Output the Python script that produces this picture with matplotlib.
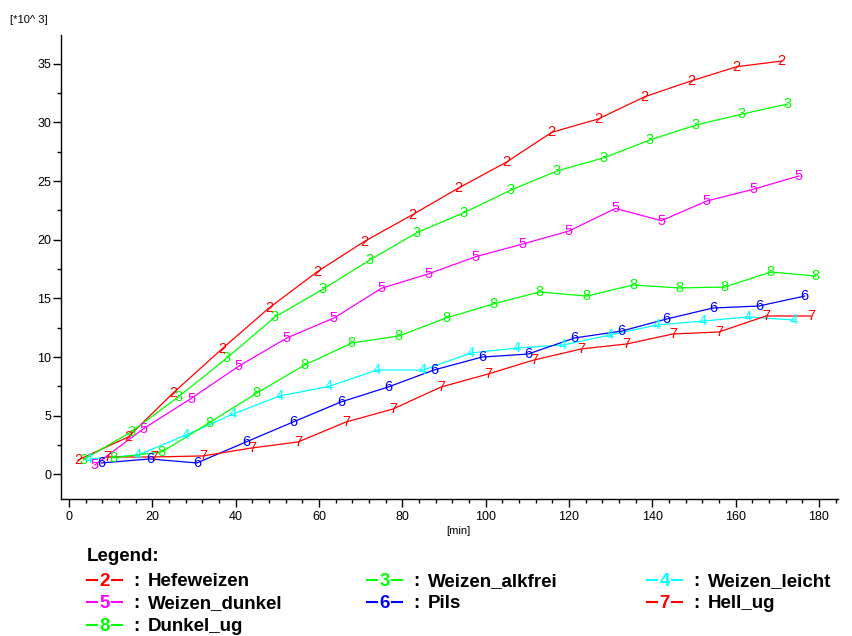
import matplotlib
matplotlib.use("Agg")
import matplotlib.pyplot as plt
from matplotlib.lines import Line2D
from matplotlib.ticker import MultipleLocator

plt.rcParams['font.family'] = ['Liberation Sans', 'DejaVu Sans']

# measured series: time [min] and value [*10^3]
t_hefe = [2.2, 14.2, 25.0, 36.7, 48.0, 59.5, 70.8, 82.3, 93.4, 104.9, 115.9, 127.0, 138.2, 149.3, 160.3, 171.1]
hefe = [1.24, 3.19, 6.94, 10.69, 14.18, 17.25, 19.83, 22.10, 24.38, 26.59, 29.15, 30.28, 32.18, 33.52, 34.74, 35.22]

t_alkfrei = [3.4, 14.9, 26.2, 37.9, 49.4, 60.9, 72.2, 83.5, 94.8, 106.1, 117.1, 128.4, 139.4, 150.5, 161.5, 172.5]
alkfrei = [1.24, 3.62, 6.60, 9.92, 13.41, 15.77, 18.27, 20.60, 22.30, 24.23, 25.85, 26.98, 28.49, 29.77, 30.70, 31.56]

t_leicht = [4.8, 16.6, 28.1, 39.4, 50.6, 62.4, 73.9, 85.0, 96.5, 107.5, 118.6, 129.8, 141.1, 152.2, 163.0, 174.0]
leicht = [1.32, 1.66, 3.36, 5.15, 6.69, 7.50, 8.90, 8.90, 10.35, 10.77, 11.03, 11.88, 12.73, 13.07, 13.42, 13.16]

t_dunkel = [6.2, 17.8, 29.3, 40.8, 52.3, 63.6, 75.0, 86.2, 97.6, 108.9, 120.0, 131.2, 142.2, 153.1, 164.2, 175.2]
dunkel = [0.81, 3.88, 6.47, 9.24, 11.63, 13.33, 15.86, 17.08, 18.55, 19.63, 20.74, 22.67, 21.62, 23.30, 24.29, 25.43]

t_pils = [7.7, 19.4, 30.7, 42.5, 53.8, 65.3, 76.6, 87.6, 99.1, 110.2, 121.4, 132.7, 143.5, 154.6, 165.6, 176.6]
pils = [0.98, 1.32, 0.98, 2.77, 4.47, 6.18, 7.45, 8.90, 10.00, 10.26, 11.63, 12.22, 13.25, 14.18, 14.35, 15.20]

t_hell = [9.1, 20.4, 32.2, 43.9, 55.0, 66.5, 77.8, 89.3, 100.6, 111.6, 122.9, 133.9, 145.0, 156.0, 167.3, 178.1]
hell = [1.49, 1.49, 1.58, 2.26, 2.77, 4.47, 5.58, 7.45, 8.56, 9.75, 10.69, 11.12, 11.97, 12.14, 13.50, 13.50]

t_dunkel_ug = [10.6, 22.3, 33.6, 45.1, 56.6, 67.9, 79.2, 90.5, 101.8, 113.0, 124.3, 135.4, 146.6, 157.4, 168.5, 179.3]
dunkel_ug = [1.41, 1.92, 4.39, 6.94, 9.33, 11.20, 11.80, 13.33, 14.52, 15.55, 15.20, 16.14, 15.89, 15.97, 17.25, 16.90]

series = [
    ("2", "Hefeweizen", "#ff0000", t_hefe, hefe),
    ("3", "Weizen_alkfrei", "#00ff00", t_alkfrei, alkfrei),
    ("4", "Weizen_leicht", "#00ffff", t_leicht, leicht),
    ("5", "Weizen_dunkel", "#ff00ff", t_dunkel, dunkel),
    ("6", "Pils", "#0000ff", t_pils, pils),
    ("7", "Hell_ug", "#ff0000", t_hell, hell),
    ("8", "Dunkel_ug", "#00ff00", t_dunkel_ug, dunkel_ug),
]

W, H = 852, 636
fig = plt.figure(figsize=(W / 100, H / 100), dpi=100)


def fx(px):
    return px / W


def fy(py):
    return 1 - py / H


ax = fig.add_axes([fx(61), fy(499), fx(838) - fx(61), fy(35) - fy(499)])

# each curve with its number written on every measuring point
for num, name, col, t, v in series:
    ax.plot(t, v, color=col, lw=0.9)
    for xi, yi in zip(t, v):
        ax.text(xi, yi, num, color=col, fontsize=10.5, ha='center', va='center')

ax.set_xlim(-1.92, 184.6)
ax.set_ylim(-2.09, 37.44)
ax.xaxis.set_major_locator(MultipleLocator(20))
ax.xaxis.set_minor_locator(MultipleLocator(4))
ax.yaxis.set_major_locator(MultipleLocator(5))
ax.yaxis.set_minor_locator(MultipleLocator(2.5))
ax.set_xticks(range(0, 181, 20))
ax.tick_params(which='major', direction='out', length=6, width=1, labelsize=9, pad=2.5)
ax.tick_params(which='minor', direction='out', length=3, width=1)
ax.tick_params(axis='y', which='major', pad=1)
for s in ['top', 'right']:
    ax.spines[s].set_visible(False)
for s in ['left', 'bottom']:
    ax.spines[s].set_linewidth(1.0)

fig.text(fx(10), fy(20), "[*10^ 3]", fontsize=8, va='center', ha='left')
fig.text(fx(458), fy(531), "[min]", fontsize=8, va='center', ha='center')

# legend block under the plot
fig.text(fx(87), fy(561), "Legend:", fontsize=13.5, fontweight='bold', va='baseline')
cols = [87, 367, 647]
rows = [586, 608, 631]
for i, (num, name, col, t, v) in enumerate(series):
    x0 = cols[i % 3]
    yb = rows[i // 3]
    ym = yb - 6.5
    fig.add_artist(Line2D([fx(x0), fx(x0 + 10)], [fy(ym), fy(ym)], color=col, lw=1.5))
    fig.add_artist(Line2D([fx(x0 + 25), fx(x0 + 35)], [fy(ym), fy(ym)], color=col, lw=1.5))
    fig.text(fx(x0 + 17.5), fy(yb), num, color=col, fontsize=13.5, fontweight='bold',
             ha='center', va='baseline')
    fig.text(fx(x0 + 46), fy(yb), ":", fontsize=13.5, fontweight='bold', va='baseline')
    fig.text(fx(x0 + 61), fy(yb), name, fontsize=13.5, fontweight='bold', va='baseline')

fig.savefig("out.png", dpi=100)
